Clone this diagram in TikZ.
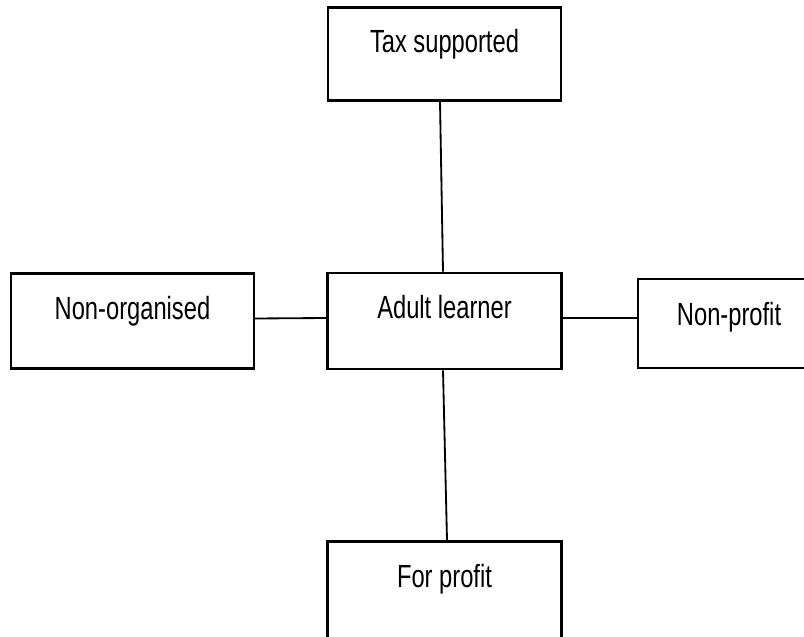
\documentclass[tikz,border=0pt]{standalone}
\usepackage{fontspec}
\setmainfont{Liberation Sans}[FakeStretch=0.74]
\usepackage{tikz}
\usetikzlibrary{positioning}
\tikzset{
  sector/.style={rectangle,draw=black,line width=1.8pt,fill=white,
    inner sep=0pt,align=center,text height=1.15cm,text depth=1.25cm,
    minimum width=5.85cm},
  link/.style={line width=1.3pt,draw=black}
}

\begin{document}
\begin{tikzpicture}[font=\fontsize{22.8}{27}\selectfont]
  \clip (0,0) rectangle (20.1,15.9);
  \node[sector] (learner) at (11.1125,7.875) {Adult learner};
  \node[sector,above=4.25cm of learner,text height=1.125cm,text depth=1.2cm,
    minimum width=5.825cm] (tax) {Tax supported};
  \node[sector,left=1.775cm of learner,text height=1.15cm,text depth=1.225cm,
    minimum width=6.075cm] (nonorg) {Non-organised};
  \node[sector,right=1.85cm of learner,yshift=-0.0625cm,text height=1.175cm,
    text depth=1.05cm,minimum width=4.55cm] (nonprofit) {Non-profit};
  \node[sector,below=4.25cm of learner,text depth=1.35cm] (forprofit) {For profit};
  \draw[link] ([xshift=-0.1125cm]tax.south) -- ([xshift=-0.0375cm]learner.north);
  \draw[link] ([xshift=-0.0375cm]learner.south) -- ([xshift=0.0625cm]forprofit.north);
  \draw[link] ([yshift=0.0625cm]nonorg.east) -- ([yshift=0.075cm]learner.west);
  \draw[link] ([yshift=0.075cm]learner.east) -- ([yshift=0.1375cm]nonprofit.west);
\end{tikzpicture}
\end{document}
